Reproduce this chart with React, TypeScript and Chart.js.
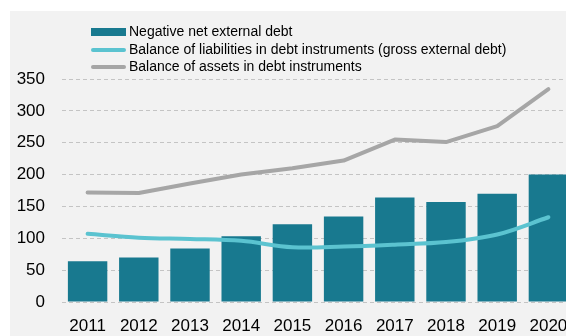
import React, { useEffect, useRef } from "react";
import { Chart, registerables } from "chart.js";

Chart.register(...registerables);

const years = ["2011", "2012", "2013", "2014", "2015", "2016", "2017", "2018", "2019", "2020"];
const negativeNetDebt = [64, 70, 84, 103, 122, 134, 164, 157, 170, 200];
const liabilitiesDebt = [107, 101, 99, 96, 86, 87, 90, 94, 106, 133];
const assetsDebt = [172, 171, 186, 200, 210, 222, 255, 251, 276, 334];
const seriesLabels = [
  "Negative net external debt",
  "Balance of liabilities in debt instruments (gross external debt)",
  "Balance of assets in debt instruments",
];
const yMin = 0;
const yMax = 350;
const yStep = 50;

const BAR = "#18798f";
const CYAN = "#5bc3d0";
const GRAY = "#a6a6a6";
const FONT = "'Liberation Sans', Arial, sans-serif";

export default function App() {
  const ref = useRef<HTMLCanvasElement | null>(null);

  useEffect(() => {
    if (!ref.current) return;
    const chart = new Chart(ref.current, {
      type: "bar",
      data: {
        labels: years,
        datasets: [
          {
            type: "bar",
            label: seriesLabels[0],
            data: negativeNetDebt,
            backgroundColor: BAR,
            borderWidth: 0,
            barPercentage: 0.77,
            categoryPercentage: 1,
            order: 3,
          },
          {
            type: "line",
            label: seriesLabels[1],
            data: liabilitiesDebt,
            borderColor: CYAN,
            backgroundColor: CYAN,
            borderWidth: 4,
            pointRadius: 0,
            tension: 0.35,
            borderCapStyle: "round",
            order: 1,
          },
          {
            type: "line",
            label: seriesLabels[2],
            data: assetsDebt,
            borderColor: GRAY,
            backgroundColor: GRAY,
            borderWidth: 4,
            pointRadius: 0,
            tension: 0,
            borderCapStyle: "round",
            borderJoinStyle: "round",
            order: 2,
          },
        ],
      },
      options: {
        responsive: false,
        animation: false,
        devicePixelRatio: 1,
        layout: { padding: { top: 68, right: 16, left: 0, bottom: 0 } },
        plugins: {
          legend: { display: false },
          tooltip: { enabled: false },
        },
        scales: {
          x: {
            grid: { display: false, drawTicks: false },
            border: { display: false },
            ticks: {
              color: "#000",
              font: { family: FONT, size: 17 },
              padding: 14,
              maxRotation: 0,
              autoSkip: false,
            },
            afterFit: (s: any) => {
              s.height = 34;
            },
          },
          y: {
            min: yMin,
            max: yMax,
            grid: {
              color: "#c4c4c4",
              lineWidth: 1,
              drawTicks: false,
            },
            border: { display: false, dash: [4, 3] },
            ticks: {
              stepSize: yStep,
              color: "#000",
              font: { family: FONT, size: 17 },
              padding: 17,
            },
            afterFit: (s: any) => {
              s.width = 52;
            },
          },
        },
      },
    });
    return () => chart.destroy();
  }, []);

  const swatches = [
    { color: BAR, h: 8, r: 0 },
    { color: CYAN, h: 4, r: 2 },
    { color: GRAY, h: 4, r: 2 },
  ];

  return (
    <div
      style={{
        position: "fixed",
        left: 0,
        top: 0,
        width: 566,
        height: 336,
        overflow: "hidden",
        background: "#fff",
      }}
    >
      <div
        style={{
          position: "absolute",
          left: 10,
          top: 11,
          width: 600,
          height: 340,
          background: "#f2f2f2",
        }}
      >
        <canvas
          ref={ref}
          width={580}
          height={325}
          style={{ position: "absolute", left: 0, top: 0, width: 580, height: 325 }}
        />
        {seriesLabels.map((label, i) => (
          <div
            key={label}
            style={{
              position: "absolute",
              left: 81,
              top: 12.25 + i * 17.5,
              height: 17.5,
              display: "flex",
              alignItems: "center",
              whiteSpace: "nowrap",
              fontFamily: FONT,
              fontSize: 14,
              lineHeight: "17.5px",
              color: "#000",
            }}
          >
            <span
              style={{
                display: "inline-block",
                width: 35,
                height: swatches[i].h,
                borderRadius: swatches[i].r,
                background: swatches[i].color,
                marginRight: 3,
              }}
            />
            <span>{label}</span>
          </div>
        ))}
      </div>
    </div>
  );
}
